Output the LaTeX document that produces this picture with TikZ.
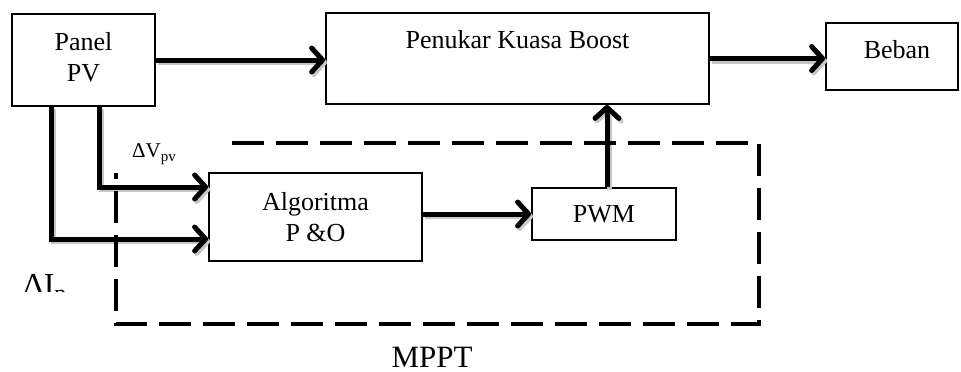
\documentclass[tikz,border=0pt]{standalone}
\usepackage{fontspec}
\setmainfont{Liberation Serif}
\usetikzlibrary{arrows.meta}
\begin{document}
\begin{tikzpicture}[x=1pt,y=-1pt,
  box/.style={draw, line width=1.8pt, inner sep=0pt},
  txt/.style={inner sep=0pt, align=center, font=\fontsize{26}{31}\selectfont},
  arrbase/.style={line width=5pt, -{Straight Barb[length=11pt,width=24pt,round]}},
  arr/.style={arrbase},
  arrsh/.style={arrbase, draw=black!22, transform canvas={xshift=2pt,yshift=-2.5pt}},
  mpptline/.style={line width=4pt, dash pattern=on 32pt off 12pt}]
\useasboundingbox (0,0) rectangle (961,372);
% boxes
\node[box, minimum width=143pt, minimum height=92pt] (pv) at (83.5,60) {};
\node[txt] (pvt) at (83.5,57) {Panel\\PV};
\node[box, minimum width=383pt, minimum height=91pt] (boost) at (517.5,58.5) {};
\node[txt, anchor=base] (boostt) at (517.5,48) {Penukar Kuasa Boost};
\node[box, minimum width=132pt, minimum height=67pt] (beban) at (892,56.5) {};
\node[txt, anchor=base] (bebant) at (897,58) {Beban};
\node[box, minimum width=213pt, minimum height=88pt] (alg) at (315.5,217) {};
\node[txt] (algt) at (315.5,217) {Algoritma\\P \&O};
\node[box, minimum width=144pt, minimum height=52pt] (pwm) at (604,214) {};
\node[txt] (pwmt) at (604,214) {PWM};
% connector shadows
\draw[arrsh] (pv.east) -- (boost.west |- pv.east);
\draw[arrsh] (boost.east) -- (beban.west |- boost.east);
\draw[arrsh] (alg.east |- pwm.west) -- (pwm.west);
\draw[arrsh] ([xshift=3pt]pwm.north) -- ([xshift=3pt]pwm.north |- boost.south);
\draw[arrsh] ([xshift=15.5pt]pv.south) |- ([yshift=30pt]alg.west);
\draw[arrsh] ([xshift=-32.5pt]pv.south) |- ([yshift=-22pt]alg.west);
% connectors
\draw[arr] (pv.east) -- (boost.west |- pv.east);
\draw[arr] (boost.east) -- (beban.west |- boost.east);
\draw[arr] (alg.east |- pwm.west) -- (pwm.west);
\draw[arr] ([xshift=3pt]pwm.north) -- ([xshift=3pt]pwm.north |- boost.south);
\draw[arr] ([xshift=15.5pt]pv.south) |- ([yshift=30pt]alg.west);
\draw[arr] ([xshift=-32.5pt]pv.south) |- ([yshift=-22pt]alg.west);
% MPPT dashed frame
\coordinate (m1) at (232,143);
\coordinate (m2) at (759,143);
\coordinate (m3) at (759,324);
\coordinate (m4) at (116,324);
\coordinate (m5) at (116,173);
\draw[mpptline] (m1) -- (m2) -- (m3) -- (m4) -- (m5);
% labels
\node[anchor=base west, inner sep=0pt, font=\fontsize{21}{24}\selectfont] (dv) at (132,157) {ΔV\raisebox{-0.22em}{\fontsize{15}{15}\selectfont pv}};
\begin{scope}
\clip (0,250) rectangle (150,291);
\node[anchor=base west, inner sep=0pt, font=\fontsize{32}{36}\selectfont] (di) at (23,295) {ΔI\raisebox{-0.2em}{\fontsize{24}{24}\selectfont p}};
\end{scope}
\node[anchor=base, inner sep=0pt, font=\fontsize{31}{36}\selectfont] (mppt) at (432,367) {MPPT};
\end{tikzpicture}
\end{document}
